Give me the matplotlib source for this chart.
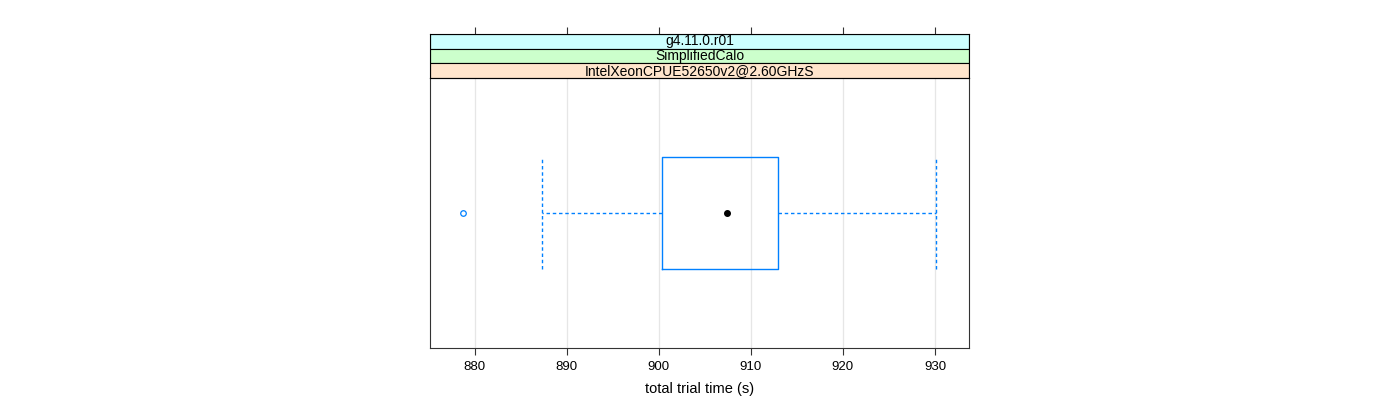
import matplotlib.pyplot as plt
from matplotlib.patches import Rectangle

# values (total trial time, seconds)
q1 = 900.34
med = 907.46
q3 = 912.99
whisker_low = 887.3
whisker_high = 930.1
outliers = [878.75]

strip_labels = ["g4.11.0.r01", "SimplifiedCalo", "IntelXeonCPUE52650v2@2.60GHzS"]
strip_colors = ["#ccffff", "#ccffcc", "#ffe5cc"]
x_ticks = [880, 890, 900, 910, 920, 930]

blue = "#0080ff"
plt.rcParams['font.family'] = ['Liberation Sans', 'DejaVu Sans']

fig = plt.figure(figsize=(14, 4), dpi=100)

# panel geometry in figure fractions (matches lattice layout)
left, right = 430 / 1400, 969 / 1400
plot_bottom, plot_top = 1 - 348 / 400, 1 - 78 / 400
strip_top = 1 - 34 / 400

ax = fig.add_axes([left, plot_bottom, right - left, plot_top - plot_bottom])
sx = fig.add_axes([left, plot_top, right - left, strip_top - plot_top], sharex=ax)

# lattice-style 7% padding on the data range
lo = min(outliers + [whisker_low])
hi = max(outliers + [whisker_high])
pad = 0.07 * (hi - lo)
ax.set_xlim(lo - pad, hi + pad)
ax.set_ylim(0.4, 1.6)

for t in x_ticks:
    ax.axvline(t, color="#e6e6e6", lw=0.9, zorder=0)

stats = [dict(med=med, q1=q1, q3=q3, whislo=whisker_low, whishi=whisker_high,
              fliers=outliers)]
ax.bxp(stats, positions=[1], widths=0.5, capwidths=0.5, orientation='horizontal',
       showfliers=True,
       boxprops=dict(color=blue, lw=1),
       whiskerprops=dict(color=blue, lw=1, linestyle=(0, (2.5, 2))),
       capprops=dict(color=blue, lw=1, linestyle=(0, (2.5, 2))),
       medianprops=dict(lw=0),
       flierprops=dict(marker='o', markerfacecolor='none', markeredgecolor=blue,
                       markersize=4, markeredgewidth=0.9))
ax.plot([med], [1], 'o', color='black', markersize=4, zorder=5)

ax.set_yticks([])
ax.set_xticks(x_ticks)
ax.set_xticklabels([str(t) for t in x_ticks], fontsize=9.5)
ax.tick_params(axis='x', direction='out', length=5, width=0.8, color='#333333', pad=4)
ax.set_xlabel("total trial time (s)", fontsize=10.5, labelpad=7)
for sp in ax.spines.values():
    sp.set_color('#333333')
    sp.set_linewidth(0.8)

# strips, top to bottom
n = len(strip_labels)
sx.set_ylim(0, n)
for i, (lab, col) in enumerate(zip(strip_labels, strip_colors)):
    y0 = n - 1 - i
    sx.add_patch(Rectangle((0, y0), 1, 1, transform=sx.get_yaxis_transform(),
                           facecolor=col, edgecolor='black', lw=0.8))
    sx.text(0.5, y0 + 0.5, lab, transform=sx.get_yaxis_transform(),
            ha='center', va='center', fontsize=10)
sx.set_yticks([])
sx.xaxis.tick_top()
sx.tick_params(axis='x', direction='out', length=5, width=0.8, color='#333333',
               labeltop=False, labelbottom=False)
for sp in sx.spines.values():
    sp.set_color('black')
    sp.set_linewidth(0.8)

fig.savefig("out.png", dpi=100)
